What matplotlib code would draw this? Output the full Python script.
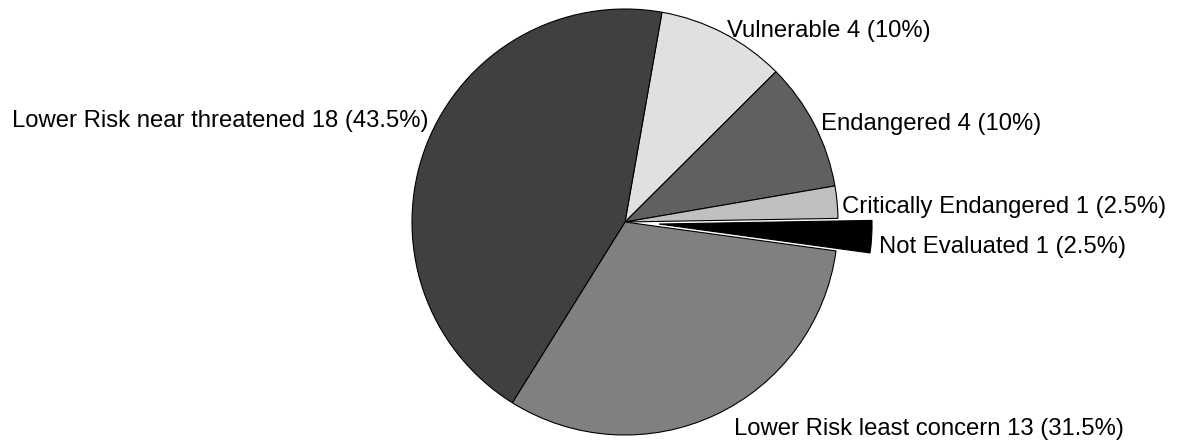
import matplotlib
matplotlib.use("Agg")
import matplotlib.pyplot as plt

categories = ["Vulnerable", "Endangered", "Critically Endangered", "Not Evaluated",
              "Lower Risk least concern", "Lower Risk near threatened"]
counts = [4, 4, 1, 1, 13, 18]
pct_labels = ["10%", "10%", "2.5%", "2.5%", "31.5%", "43.5%"]
colors = ["#e0e0e0", "#606060", "#c0c0c0", "#000000", "#808080", "#404040"]
explode = [0, 0, 0, 0.16, 0, 0]

W, H, DPI = 1177, 442, 100
CX, CY, R = 625, 222, 213

fig = plt.figure(figsize=(W / DPI, H / DPI), dpi=DPI)
ax = fig.add_axes([0, 0, 1, 1])
wedges, _ = ax.pie(counts, colors=colors, explode=explode, startangle=80,
                   counterclock=False,
                   wedgeprops=dict(edgecolor="black", linewidth=0.8))
ax.set_xlim(-CX / R, (W - CX) / R)
ax.set_ylim(-(H - CY) / R, CY / R)
ax.set_aspect("auto")
ax.axis("off")

# label anchors (pixel layout: x, baseline y, alignment)
label_pos = [(727, 37, "left"), (821, 130, "left"), (842, 213, "left"),
             (879, 253, "left"), (734, 435, "left"), (429, 127, "right")]
for cat, n, p, (px, py, ha) in zip(categories, counts, pct_labels, label_pos):
    ax.text((px - CX) / R, (CY - py) / R, f"{cat} {n} ({p})", ha=ha, va="baseline",
            fontsize=17.2, family="Liberation Sans", color="black")

fig.savefig("out.png", dpi=DPI)
